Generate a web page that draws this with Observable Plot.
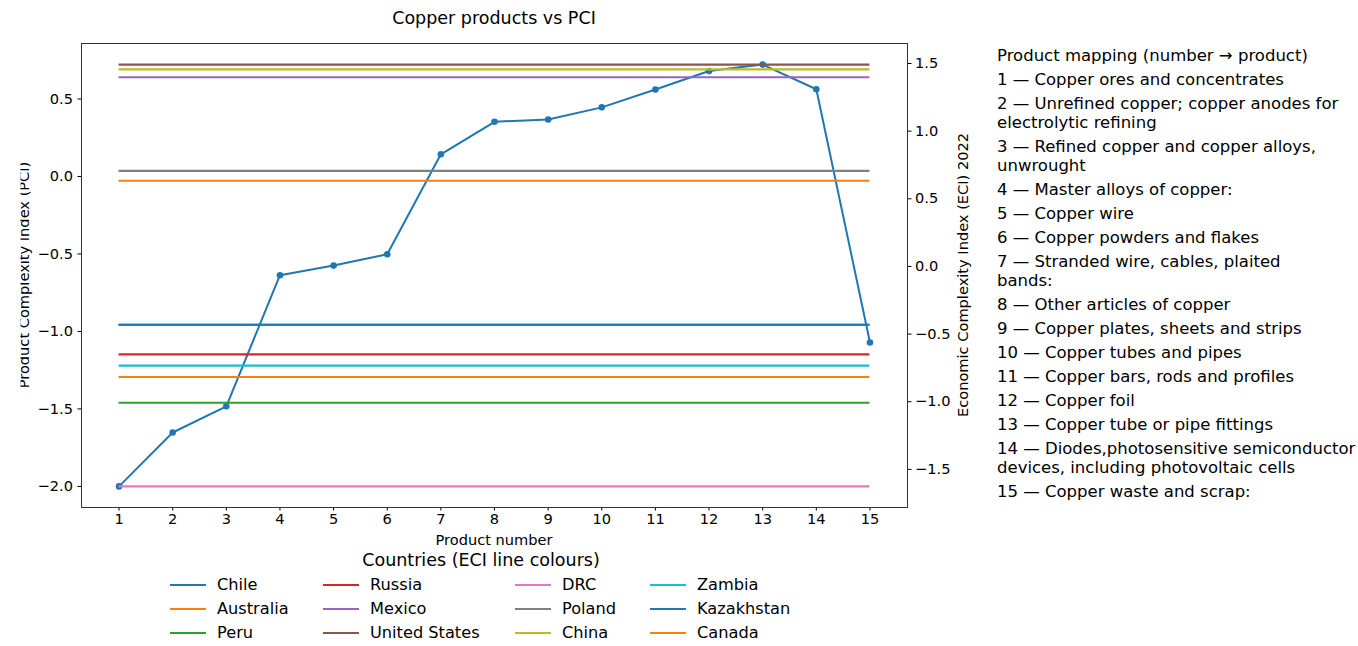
<!DOCTYPE html>
<html>
<head>
<meta charset="utf-8">
<script src="https://cdn.jsdelivr.net/npm/d3@7"></script>
<script src="https://cdn.jsdelivr.net/npm/@observablehq/plot@0.6"></script>
<style>
  html, body { margin: 0; padding: 0; background: #fff; }
  #fig { position: relative; width: 1358px; height: 646px; overflow: hidden; font-family: "DejaVu Sans", sans-serif; color: #000; }
  #plot { position: absolute; left: 0; top: 0; }
  #title { position: absolute; left: 0; width: 988px; top: 7px; text-align: center; font-size: 17.5px; line-height: 22px; }
  #mapping { position: absolute; left: 997px; top: 46px; font-size: 16.5px; line-height: 19px; }
  #mapping div { margin-bottom: 5px; white-space: pre; }
  #legendTitle { position: absolute; left: 0; width: 962px; top: 549px; text-align: center; font-size: 17.5px; line-height: 22px; }
  .leg { position: absolute; font-size: 16.2px; line-height: 20px; white-space: nowrap; }
  .leg .h { position: absolute; left: 0; top: 9px; width: 36px; height: 2px; }
  .leg .t { position: absolute; left: 47px; top: 0; }
  #overlay { position: absolute; left: 0; top: 0; }
</style>
</head>
<body>
<div id="fig">
  <div id="plot"></div>
  <div id="title">Copper products vs PCI</div>
  <div id="mapping"></div>
  <div id="legendTitle">Countries (ECI line colours)</div>
</div>
<script>
// ---------- data ----------
const productNumbers = [1, 2, 3, 4, 5, 6, 7, 8, 9, 10, 11, 12, 13, 14, 15];
const productNames = [
  "Copper ores and concentrates",
  "Unrefined copper; copper anodes for electrolytic refining",
  "Refined copper and copper alloys, unwrought",
  "Master alloys of copper:",
  "Copper wire",
  "Copper powders and flakes",
  "Stranded wire, cables, plaited bands:",
  "Other articles of copper",
  "Copper plates, sheets and strips",
  "Copper tubes and pipes",
  "Copper bars, rods and profiles",
  "Copper foil",
  "Copper tube or pipe fittings",
  "Diodes,photosensitive semiconductor devices, including photovoltaic cells",
  "Copper waste and scrap:"
];
const pciValues = [-2.0, -1.652, -1.483, -0.637, -0.575, -0.502, 0.143, 0.353, 0.368, 0.446, 0.561, 0.681, 0.722, 0.563, -1.071];

const countries = ["Chile", "Australia", "Peru", "Russia", "Mexico", "United States", "DRC", "Poland", "China", "Zambia", "Kazakhstan", "Canada"];
const eciValues = [-0.431, -0.817, -1.008, -0.650, 1.398, 1.492, -1.626, 0.706, 1.457, -0.733, -0.431, 0.633];
const countryColors = ["#1f77b4", "#ff7f0e", "#2ca02c", "#d62728", "#9467bd", "#8c564b", "#e377c2", "#7f7f7f", "#bcbd22", "#17becf", "#1f77b4", "#ff7f0e"];
const pciLineColor = "#1f77b4";

const xTickValues = productNumbers;
const pciTickValues = [-2.0, -1.5, -1.0, -0.5, 0.0, 0.5];
const eciTickValues = [-1.5, -1.0, -0.5, 0.0, 0.5, 1.0, 1.5];

// ---------- scales (matplotlib-like 5% margins) ----------
function padded(vals) {
  const lo = d3.min(vals), hi = d3.max(vals), r = hi - lo;
  return [lo - 0.05 * r, hi + 0.05 * r];
}
const xDomain = padded(productNumbers);
const pciDomain = padded(pciValues);
const eciDomain = padded(eciValues);
const eciToPci = d3.scaleLinear().domain(eciDomain).range(pciDomain);
const fmt = d3.format(".1f");

const pciData = productNumbers.map((n, i) => ({product: n, pci: pciValues[i]}));
const eciData = countries.map((c, i) => ({country: c, eci: eciValues[i], color: countryColors[i]}));
const xStart = d3.min(productNumbers), xEnd = d3.max(productNumbers);

const W = 960, H = 550;
const chart = Plot.plot({
  width: W,
  height: H,
  marginLeft: 81,
  marginRight: 53,
  marginTop: 43,
  marginBottom: 43,
  style: {fontFamily: "DejaVu Sans, sans-serif", fontSize: "14.6px", color: "#000", background: "transparent", overflow: "visible"},
  x: {domain: xDomain},
  y: {domain: pciDomain},
  color: {type: "identity"},
  marks: [
    Plot.axisX({ticks: xTickValues, tickSize: 3.5, tickPadding: 3, tickFormat: d3.format("d"), label: null, stroke: "#000"}),
    Plot.axisY({ticks: pciTickValues, tickSize: 3.5, tickPadding: 5, tickFormat: fmt, label: null}),
    Plot.axisY({anchor: "right", ticks: eciTickValues.map(v => eciToPci(v)), tickSize: 3.5, tickPadding: 4,
                tickFormat: v => fmt(eciToPci.invert(v)), label: null}),
    Plot.lineY(pciData, {x: "product", y: "pci", stroke: pciLineColor, strokeWidth: 2}),
    Plot.dot(pciData, {x: "product", y: "pci", r: 3.3, fill: pciLineColor, stroke: "none"}),
    Plot.ruleY(eciData, {y: d => eciToPci(d.eci), x1: xStart, x2: xEnd, stroke: "color", strokeWidth: 2.1}),
    Plot.frame({stroke: "#333", strokeWidth: 1})
  ]
});
document.getElementById("plot").appendChild(chart);

// ---------- axis titles (overlay svg) ----------
const frameMidY = (43 + (H - 43)) / 2;
const ov = d3.select("#fig").append("svg").attr("id", "overlay").attr("width", 1358).attr("height", 646)
  .style("font-family", "DejaVu Sans, sans-serif");
ov.append("defs").append("clipPath").attr("id", "leftclip")
  .append("rect").attr("x", 20.5).attr("y", 0).attr("width", 60).attr("height", 646);
ov.append("g").attr("clip-path", "url(#leftclip)")
  .append("text")
  .attr("transform", `translate(28.5,${frameMidY}) rotate(-90)`)
  .attr("text-anchor", "middle").attr("font-size", 14.6).attr("fill", "#000")
  .text("Product Complexity Index (PCI)");
ov.append("text")
  .attr("transform", `translate(968,${frameMidY}) rotate(-90)`)
  .attr("text-anchor", "middle").attr("font-size", 14.6).attr("fill", "#000")
  .text("Economic Complexity Index (ECI) 2022");
ov.append("text")
  .attr("x", (81 + (W - 53)) / 2).attr("y", 545)
  .attr("text-anchor", "middle").attr("font-size", 14.6).attr("fill", "#000")
  .text("Product number");

// ---------- product mapping ----------
function wrap(text, width) {
  const words = text.split(" ");
  const lines = [];
  let cur = "";
  for (const w of words) {
    if (cur === "") cur = w;
    else if ((cur + " " + w).length <= width) cur += " " + w;
    else { lines.push(cur); cur = w; }
  }
  if (cur) lines.push(cur);
  return lines.join("\n");
}
const mapping = d3.select("#mapping");
mapping.append("div").text("Product mapping (number \u2192 product)");
productNumbers.forEach((n, i) => {
  mapping.append("div").text(wrap(`${n} \u2014 ${productNames[i]}`, 40));
});

// ---------- legend ----------
const colX = [170, 323, 515, 650];
const rowY = [575, 599, 623];
const nRows = 3;
countries.forEach((c, i) => {
  const col = Math.floor(i / nRows), row = i % nRows;
  const item = d3.select("#fig").append("div").attr("class", "leg")
    .style("left", colX[col] + "px").style("top", rowY[row] + "px");
  item.append("div").attr("class", "h").style("background", countryColors[i]);
  item.append("div").attr("class", "t").text(c);
});
</script>
</body>
</html>
